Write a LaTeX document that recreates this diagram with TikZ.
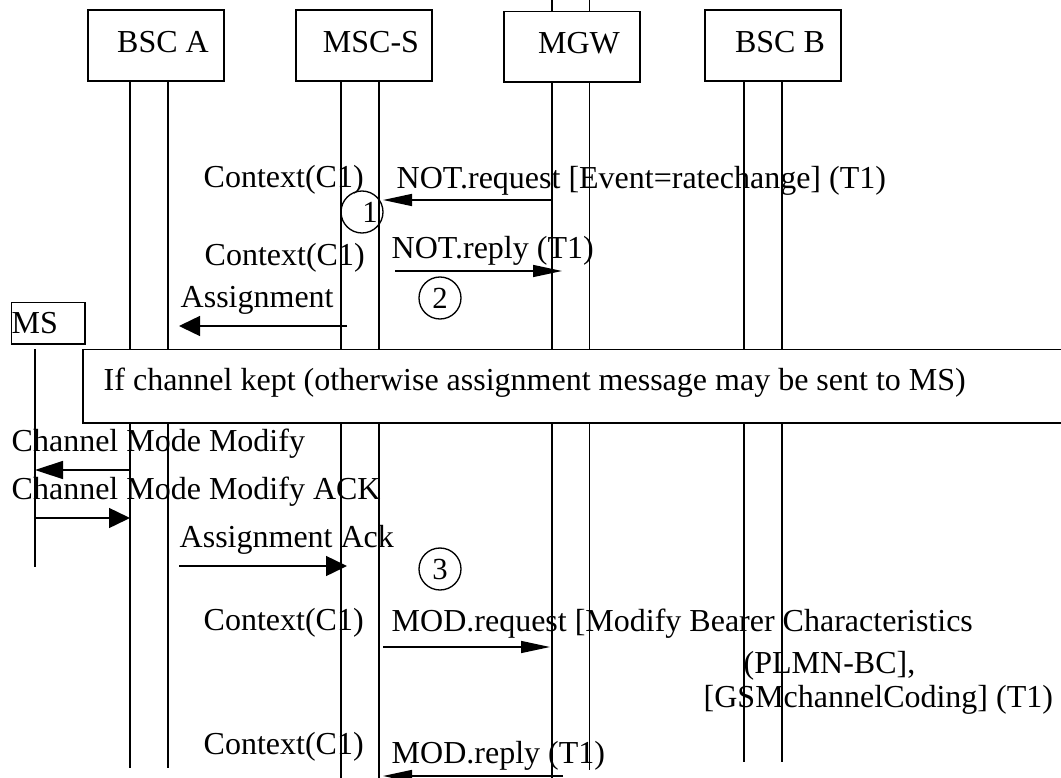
\documentclass[tikz,border=0pt]{standalone}
\usepackage{fontspec}
\setmainfont{Liberation Serif}
\usetikzlibrary{arrows.meta}
\begin{document}
\begin{tikzpicture}[x=0.75pt,y=-0.75pt, line width=1.1pt,
  every node/.style={font=\fontsize{24}{29}\selectfont},
  txt/.style={anchor=base west, inner sep=0},
  ent/.style={draw, line width=1.3pt, fill=white, minimum width=102pt, minimum height=53.25pt, inner sep=0, text depth=6pt, execute at begin node={\hspace*{10.5pt}}},
  num/.style={draw, circle, minimum size=31.5pt, inner sep=0, line width=1pt, font=\fontsize{23}{27}\selectfont},
  narrowtip/.style={-{Triangle[length=21.75pt,width=9pt]}},
  widetip/.style={-{Triangle[length=15.75pt,width=15pt]}},
  midtip/.style={-{Triangle[length=21pt,width=13.5pt]}}]
\useasboundingbox (0,0) rectangle (1061,778);

% lifelines
\draw (130,81) -- (130,768);
\draw (168,81) -- (168,768);
\draw (341,81) -- (341,778);
\draw (379,81) -- (379,778);
\draw (552,0) -- (552,778);
\draw (589.5,0) -- (589.5,770);
\draw (744,81) -- (744,762);
\draw (782,81) -- (782,762);
\draw (35,349) -- (35,567);

% entity boxes
\node[ent] (bsca) at (156,45.5) {BSC A};
\node[ent] (mscs) at (364,45.5) {MSC-S};
\node[ent, minimum height=52.9pt] (mgw) at (572,46.75) {MGW};
\node[ent] (bscb) at (773,45.5) {BSC B};

% MS box
\node[draw, line width=1.3pt, anchor=north west, minimum width=55pt, minimum height=31.2pt, inner sep=0, text width=55pt, align=left] (ms) at (10.7,301.7) {MS};

% If box
\node[fill=white, anchor=north west, minimum width=733.5pt, minimum height=54.15pt, inner sep=0] (ifbox) at (83,349.5) {};
\draw[line width=1.3pt] (ifbox.north east) -- (ifbox.north west) -- (ifbox.south west) -- (ifbox.south east);
\node[txt] (iftxt) at (103,390) {If channel kept (otherwise assignment message may be sent to MS)};

% labels
\node[txt] (ctx1) at (203,187) {Context(C1)};
\node[txt] (notreq) at (396,188) {NOT.request [Event=ratechange] (T1)};
\node[txt] (ctx2) at (204,265) {Context(C1)};
\node[txt] (notrep) at (391,258) {NOT.reply (T1)};
\node[txt] (assign) at (180,307) {Assignment};
\node[txt] (cmm) at (11,451) {Channel Mode Modify};
\node[txt] (cmmack) at (11,499) {Channel Mode Modify ACK};
\node[txt] (aack) at (179,547) {Assignment Ack};
\node[txt] (ctx3) at (203,630) {Context(C1)};
\node[txt] (modreq1) at (391,631) {MOD.request [Modify Bearer Characteristics};
\node[txt] (modreq2) at (743,673) {(PLMN-BC],};
\node[txt] (modreq3) at (703,707) {[GSMchannelCoding] (T1)};
\node[txt] (ctx4) at (203,754) {Context(C1)};
\node[txt] (modrep) at (391,763) {MOD.reply (T1)};

% numbered circles
\node[num] (c1) at (362,212) {\hspace*{12pt}1};
\node[num] (c2) at (440,298) {2};
\node[num] (c3) at (440,569) {3};

% message end points
\coordinate (nq1) at (552,200); \coordinate (nq2) at (383,200);
\coordinate (np1) at (395,271); \coordinate (np2) at (562,271);
\coordinate (as1) at (347,326); \coordinate (as2) at (179,326);
\coordinate (cm1) at (130,470); \coordinate (cm2) at (35,470);
\coordinate (ck1) at (35,518);  \coordinate (ck2) at (130,518);
\coordinate (aa1) at (179,566); \coordinate (aa2) at (347,566);
\coordinate (mq1) at (383,647); \coordinate (mq2) at (550,647);
\coordinate (mp1) at (563,776); \coordinate (mp2) at (383,776);

% messages
\draw[narrowtip] (nq1) -- (nq2);
\draw[narrowtip] (np1) -- (np2);
\draw[widetip] (as1) -- (as2);
\draw[midtip] (cm1) -- (cm2);
\draw[widetip] (ck1) -- (ck2);
\draw[widetip] (aa1) -- (aa2);
\draw[narrowtip] (mq1) -- (mq2);
\draw[narrowtip] (mp1) -- (mp2);
\end{tikzpicture}
\end{document}
